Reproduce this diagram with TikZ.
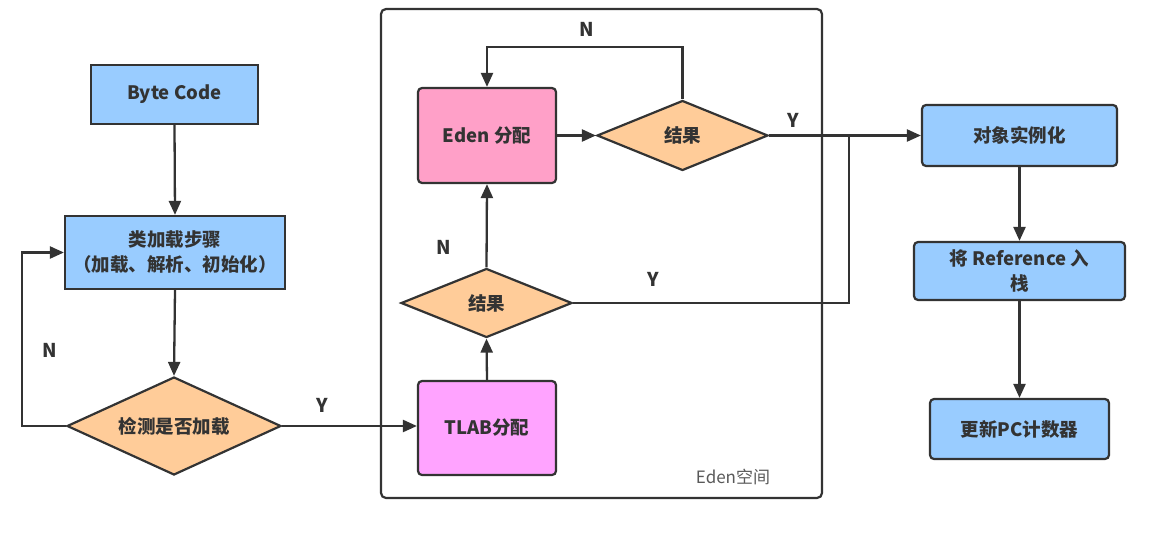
\documentclass[tikz,border=0pt]{standalone}
\usepackage{fontspec}
\setmainfont{Noto Sans CJK SC}
\usetikzlibrary{shapes.geometric,arrows.meta}
\definecolor{lineC}{HTML}{333333}
\definecolor{blueF}{HTML}{99CCFF}
\definecolor{orangeF}{HTML}{FFCC99}
\definecolor{pinkF}{HTML}{FFA0C8}
\definecolor{magF}{HTML}{FFA3FF}
\tikzset{
  conn/.style={draw=lineC, line width=2.3pt},
  arr/.style={conn, -{Triangle[length=14pt,width=12pt]}},
  sqbox/.style={draw=lineC, line width=2.2pt, fill=blueF, inner sep=0pt, align=center, font=\bfseries\fontsize{18.5}{25}\selectfont, text=lineC},
  rdbox/.style={sqbox, rounded corners=4pt},
  dia/.style={diamond, draw=lineC, line width=2.2pt, fill=orangeF, inner sep=0pt, font=\bfseries\fontsize{18.5}{22}\selectfont, text=lineC},
  lbl/.style={font=\bfseries\fontsize{19}{22}\selectfont, text=lineC, inner sep=0pt}
}
\begin{document}
\begin{tikzpicture}[x=1pt,y=-1pt]
\useasboundingbox (0,0) rectangle (1159,533);
% container
\draw[draw=lineC, line width=2.2pt, rounded corners=5pt] (381,9) rectangle (822,498);
\node[font=\fontsize{17}{19}\selectfont, text=black!65, inner sep=0pt] (edenlbl) at (733,477) {Eden空间};
% nodes
\node[sqbox, minimum width=167pt, minimum height=59pt] (bc) at (174.5,94.5) {Byte Code};
\node[sqbox, minimum width=220pt, minimum height=73pt] (cl) at (175,252.5) {类加载步骤\\（加载、解析、初始化）};
\node[dia, minimum width=214pt, minimum height=98pt, aspect=2.18] (d1) at (174,426) {检测是否加载};
\node[rdbox, fill=magF, minimum width=138pt, minimum height=94pt] (tlab) at (487,428) {TLAB分配};
\node[dia, minimum width=171pt, minimum height=69pt, aspect=2.48] (d3) at (486.5,303) {结果};
\node[rdbox, fill=pinkF, minimum width=138pt, minimum height=95pt] (eden) at (487,135.5) {Eden 分配};
\node[dia, minimum width=171pt, minimum height=70pt, aspect=2.44] (d2) at (682.5,135.5) {结果};
\node[rdbox, minimum width=195pt, minimum height=61pt] (obj) at (1019.5,135.5) {对象实例化};
\node[rdbox, minimum width=211pt, minimum height=58pt] (ref) at (1019.5,271) {将 Reference 入\\栈};
\node[rdbox, minimum width=179pt, minimum height=60pt] (pc) at (1019.5,429) {更新PC计数器};
\coordinate (j) at (849,135.5);
\coordinate (ntop) at (682.5,47);
% labels
\node[lbl] (nl1) at (50,350) {N};
\node[lbl] (yl1) at (322,405) {Y};
\node[lbl] (nl2) at (444,247) {N};
\node[lbl] (yl2) at (653,279) {Y};
\node[lbl] (nl3) at (587,29) {N};
\node[lbl] (yl3) at (793,120) {Y};
% connectors
\draw[arr] (bc.south) -- (cl.north);
\draw[arr] (cl.south) -- (d1.north);
\draw[arr] (d1.west) -- ++(-44,0) |- (cl.west);
\draw[arr] (d1.east) -- (d1.east -| tlab.west);
\draw[arr] (tlab.north) -- (d3.south);
\draw[arr] (d3.north) -- (eden.south);
\draw[arr] (eden.east) -- (d2.west);
\draw[arr] (d2.north) -- (ntop) -| (eden.north);
\draw[arr] (d2.east) -- (obj.west);
\draw[conn] (d3.east) -| (j);
\draw[arr] (obj.south) -- (ref.north);
\draw[arr] (ref.south) -- (pc.north);
\end{tikzpicture}
\end{document}
